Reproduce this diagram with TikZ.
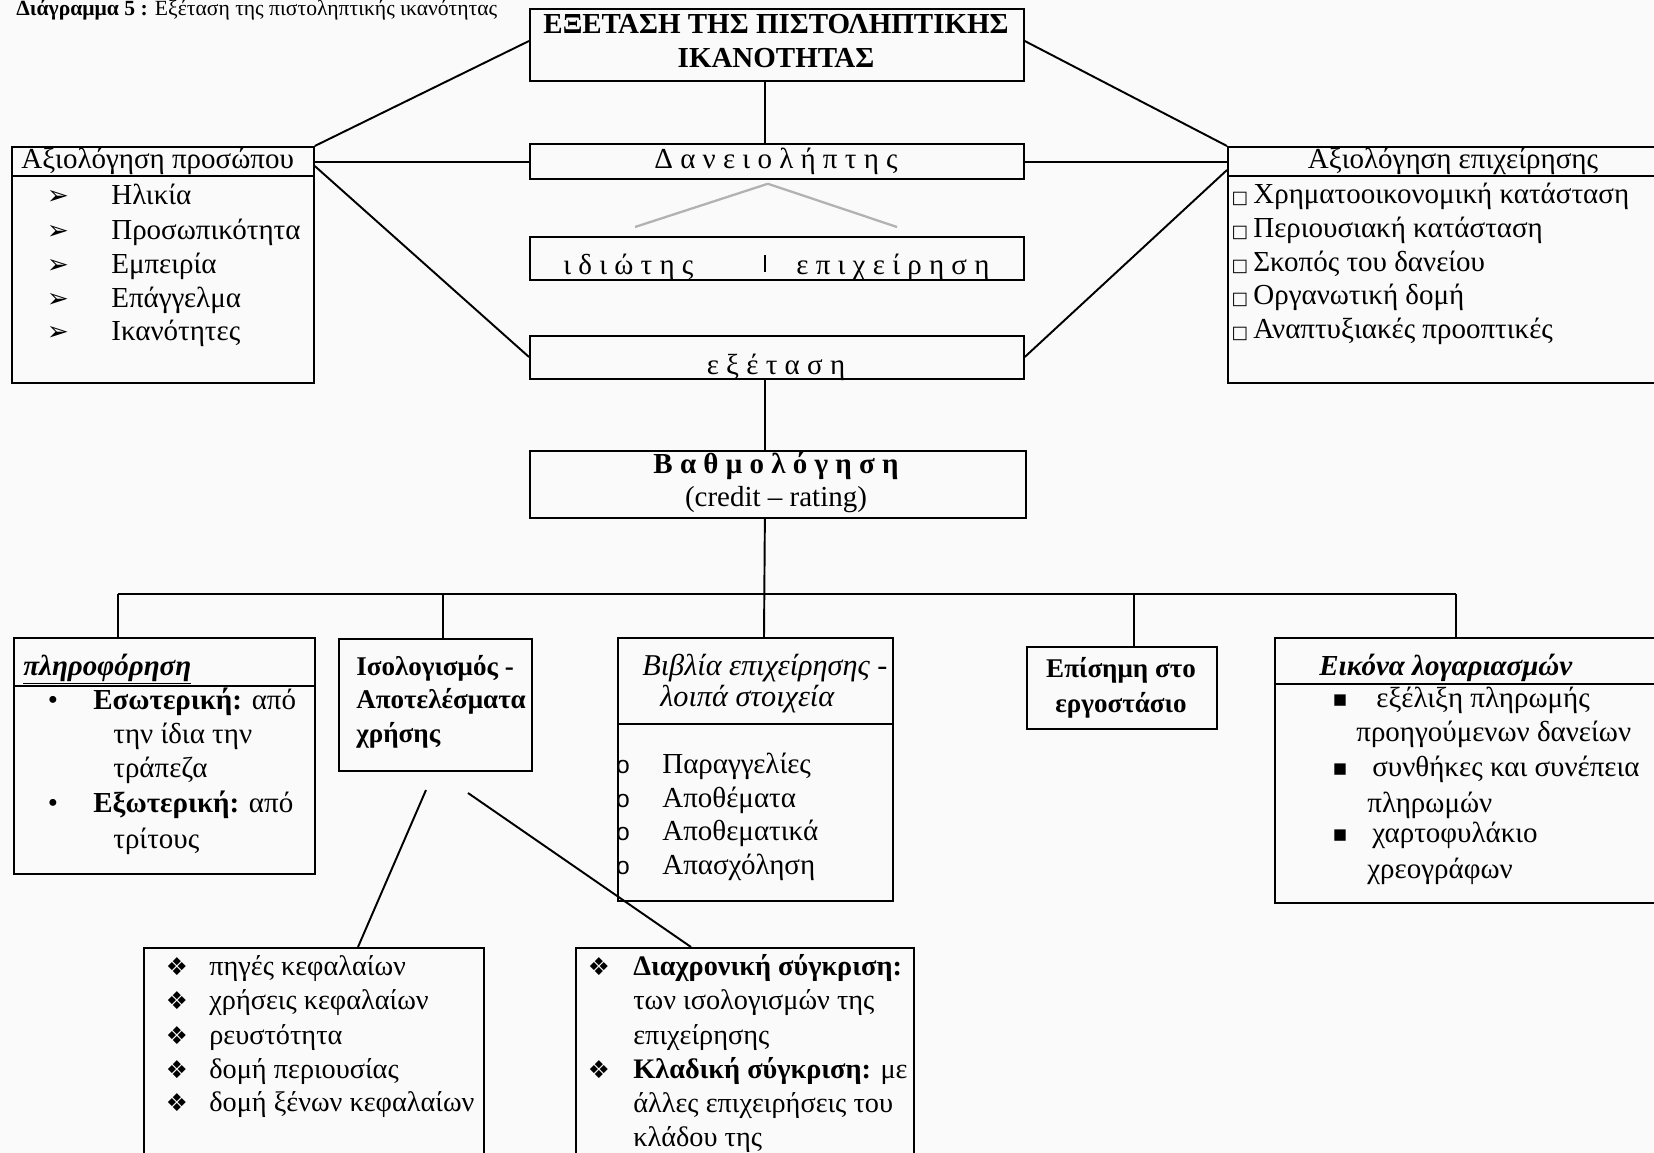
\documentclass[tikz,border=0pt]{standalone}
\usepackage{fontspec}
\setmainfont{Liberation Serif}
\newfontfamily\symf{DejaVu Sans}
\newfontfamily\monof{Liberation Mono}
\usetikzlibrary{calc}
\newcommand\fs{\fontsize{16.5pt}{19pt}\selectfont}
\newcommand\fsb{\fontsize{15.4pt}{18pt}\selectfont}
\newcommand\fsc{\fontsize{16.1pt}{19pt}\selectfont}
\newcommand\boxat[5]{\node[box, minimum width=#4*0.02cm, minimum height=#5*0.02cm] (#1) at (#2,#3) {};}
\tikzset{
  box/.style={draw, line width=1pt, inner sep=0pt, anchor=north west},
  sepline/.style={line width=1pt},
  wire/.style={line width=1.1pt},
  gwire/.style={line width=1.3pt, gray!60},
  tl/.style={inner sep=0pt, anchor=base west, font=\fs},
  tc/.style={inner sep=0pt, anchor=base, font=\fs},
  bul/.style={inner sep=0pt, anchor=base, font=\symf\fontsize{14pt}{16pt}\selectfont},
}
\begin{document}
\begin{tikzpicture}[x=0.02cm, y=-0.02cm]
\useasboundingbox (0,0) rectangle (1654,1153);
\clip (0,0) rectangle (1654,1153);
\fill[gray!4] (0,0) rectangle (1654,1153);

% caption at the top edge
\node[tl, font=\fontsize{12.3pt}{14pt}\selectfont] (hdr) at (16,15) {\textbf{Διάγραμμα 5 :} Εξέταση της πιστοληπτικής ικανότητας};

% boxes
\boxat{top}{529}{8}{494}{72}
\boxat{dan}{529}{143}{494}{35}
\boxat{idi}{529}{236}{494}{43}
\boxat{exe}{529}{335}{494}{43}
\boxat{vath}{529}{450}{496}{67}
\boxat{lp}{11}{146}{302}{236}
\boxat{le}{1227}{146}{460}{236}
\boxat{pl}{13}{637}{301}{236}
\boxat{iso}{338}{638}{193}{132}
\boxat{bib}{617}{637}{275}{263}
\boxat{epi}{1026}{646}{190}{82}
\boxat{eik}{1274}{637}{420}{265}
\boxat{bl}{143}{947}{340}{240}
\boxat{br}{575}{947}{338}{240}

% header separators
\draw[sepline] ($(lp.north west)+(0,30)$) -- ($(lp.north east)+(0,30)$);
\draw[sepline] ($(le.north west)+(0,30)$) -- ($(le.north east)+(0,30)$);
\draw[sepline] ($(pl.north west)+(0,49)$) -- ($(pl.north east)+(0,49)$);
\draw[sepline] ($(bib.north west)+(0,87)$) -- ($(bib.north east)+(0,87)$);
\draw[sepline] ($(eik.north west)+(0,47)$) -- ($(eik.north east)+(0,47)$);

% upper connectors
\draw[wire] ($(top.north west)+(0,33)$) -- (lp.north east);
\draw[wire] ($(top.north east)+(0,33)$) -- (le.north west);
\draw[wire] ($(lp.north east)+(0,16)$) -- ($(dan.north west)+(0,19)$);
\draw[wire] ($(dan.north east)+(0,19)$) -- ($(le.north west)+(0,16)$);
\draw[wire] ($(lp.north east)+(0,20)$) -- ($(exe.north west)+(0,22)$);
\draw[wire] ($(exe.north east)+(0,22)$) -- ($(le.north west)+(0,24)$);
\draw[wire] ($(top.south)+(-12,0)$) -- ($(dan.north)+(-12,0)$);
\draw[wire] ($(exe.south)+(-12,0)$) -- ($(vath.north)+(-13,0)$);
\draw[wire] ($(vath.south)+(-13,0)$) -- ($(bib.north west)+(147,0)$);

% grey split under Daneioliptis
\coordinate (gL) at (635,227);
\coordinate (gR) at (897,227);
\draw[gwire] ($(dan.south)+(-9,4)$) -- (gL);
\draw[gwire] ($(dan.south)+(-9,4)$) -- (gR);
\draw[line width=1.4pt] ($(idi.north west)+(236,19)$) -- ($(idi.north west)+(236,36)$);

% bus
\coordinate (b1) at (118,594);
\coordinate (b2) at (443,594);
\coordinate (b4) at (1134,594);
\coordinate (b5) at (1456,594);
\draw[wire] (b1) -- (b5);
\draw[wire] (b1) -- (b1 |- pl.north);
\draw[wire] (b2) -- (b2 |- iso.north);
\draw[wire] (b4) -- (b4 |- epi.north);
\draw[wire] (b5) -- (b5 |- eik.north);

% lines from Isologismos
\coordinate (isoA) at (426,790);
\coordinate (isoB) at (468,793);
\draw[wire] (isoA) -- ($(bl.north west)+(215,0)$);
\draw[wire] (isoB) -- ($(br.north west)+(116,0)$);

% texts: centre column
\node[tc, font=\fontsize{16.5pt}{20pt}\selectfont\bfseries] (t1) at (776,33) {ΕΞΕΤΑΣΗ ΤΗΣ ΠΙΣΤΟΛΗΠΤΙΚΗΣ};
\node[tc, font=\fontsize{16.5pt}{20pt}\selectfont\bfseries] (t2) at (776,67) {ΙΚΑΝΟΤΗΤΑΣ};
\node[tc] (dant) at (776,168) {Δ α ν ε ι ο λ ή π τ η ς};
\node[tl] (idit) at (563,274) {ι δ ι ώ τ η ς};
\node[tl] (epit) at (796,274) {ε π ι χ ε ί ρ η σ η};
\node[tc] (exet) at (776,374) {ε ξ έ τ α σ η};
\node[tc, font=\fs\bfseries] (vt1) at (776,473) {Β α θ μ ο λ ό γ η σ η};
\node[tc] (vt2) at (776,506) {(credit – rating)};

% left person box
\node[tl] (lph) at (21,168) {Αξιολόγηση προσώπου};
\foreach \t/\yy [count=\i] in {Ηλικία/204, Προσωπικότητα/239, Εμπειρία/273, Επάγγελμα/307, Ικανότητες/340}{
  \node[bul, font=\symf\fontsize{15pt}{17pt}\selectfont] (lpb\i) at (58,\yy) {➢};
  \node[tl] (lpt\i) at (111,\yy) {\t};
}

% right firm box
\node[tc] (leh) at (1453,168) {Αξιολόγηση επιχείρησης};
\foreach \t/\yy [count=\i] in {Χρηματοοικονομική κατάσταση/203, Περιουσιακή κατάσταση/237, Σκοπός του δανείου/271, Οργανωτική δομή/304, Αναπτυξιακές προοπτικές/338}{
  \node[bul, font=\symf\fontsize{10pt}{12pt}\selectfont] (leb\i) at (1240,\yy) {□};
  \node[tl] (let\i) at (1253,\yy) {\t};
}

% pliroforisi box
\node[tl] (plh) at (23,675) {\textbf{\textit{\underline{πληροφόρηση}}}};
\node[tc] (plb1) at (53,709) {•};
\node[tl] (plt1) at (93,709) {\textbf{Εσωτερική:} από};
\node[tl] (plt2) at (113,743) {την ίδια την};
\node[tl] (plt3) at (113,777) {τράπεζα};
\node[tc] (plb2) at (53,812) {•};
\node[tl] (plt4) at (93,812) {\textbf{Εξωτερική:} από};
\node[tl] (plt5) at (113,848) {τρίτους};

% isologismos box
\node[tl, font=\fsb\bfseries] (isot1) at (356,675) {Ισολογισμός -};
\node[tl, font=\fsb\bfseries] (isot2) at (356,708) {Αποτελέσματα};
\node[tl, font=\fsb\bfseries] (isot3) at (356,742) {χρήσης};

% vivlia box
\node[tl, font=\fontsize{17.2pt}{19pt}\selectfont\itshape] (bibh1) at (642,675) {Βιβλία επιχείρησης -};
\node[tl, font=\fontsize{17.2pt}{19pt}\selectfont\itshape] (bibh2) at (660,706) {λοιπά στοιχεία};
\foreach \t/\yy [count=\i] in {Παραγγελίες/773, Αποθέματα/807, Αποθεματικά/840, Απασχόληση/874}{
  \node[tc, font=\monof\fontsize{14pt}{16pt}\selectfont] (bibb\i) at (623,\yy) {o};
  \node[tl] (bibt\i) at (662,\yy) {\t};
}

% episkepsi box
\node[tc, font=\fsb\bfseries] (epi1) at (1121,677) {Επίσημη στο};
\node[tc, font=\fsb\bfseries] (epi2) at (1121,712) {εργοστάσιο};

% eikona box
\node[tl] (eikh) at (1319,675) {\textbf{\textit{\underline{Εικόνα λογαριασμών}}}};
\node[bul, font=\symf\fontsize{13pt}{15pt}\selectfont] (eikb1) at (1340,706) {▪};
\node[tl] (eikt1) at (1376,707) {εξέλιξη πληρωμής};
\node[tl] (eikt2) at (1356,741) {προηγούμενων δανείων};
\node[bul, font=\symf\fontsize{13pt}{15pt}\selectfont] (eikb2) at (1340,775) {▪};
\node[tl] (eikt3) at (1372,776) {συνθήκες και συνέπεια};
\node[tl] (eikt4) at (1367,812) {πληρωμών};
\node[bul, font=\symf\fontsize{13pt}{15pt}\selectfont] (eikb3) at (1340,841) {▪};
\node[tl] (eikt5) at (1372,842) {χαρτοφυλάκιο};
\node[tl] (eikt6) at (1367,878) {χρεογράφων};

% bottom left box
\foreach \t/\yy [count=\i] in {πηγές κεφαλαίων/975, χρήσεις κεφαλαίων/1009, ρευστότητα/1044, δομή περιουσίας/1078, δομή ξένων κεφαλαίων/1111}{
  \node[bul] (blb\i) at (177,\yy) {❖};
  \node[tl, font=\fsc] (blt\i) at (209,\yy) {\t};
}

% bottom right box
\node[bul] (brb1) at (599,975) {❖};
\node[tl, font=\fsc] (brt1) at (633,975) {\textbf{Διαχρονική σύγκριση:}};
\node[tl, font=\fsc] (brt2) at (633,1009) {των ισολογισμών της};
\node[tl, font=\fsc] (brt3) at (633,1044) {επιχείρησης};
\node[bul] (brb2) at (599,1078) {❖};
\node[tl, font=\fsc] (brt4) at (633,1078) {\textbf{Κλαδική σύγκριση:} με};
\node[tl, font=\fsc] (brt5) at (633,1112) {άλλες επιχειρήσεις του};
\node[tl, font=\fsc] (brt6) at (633,1146) {κλάδου της};
\end{tikzpicture}
\end{document}
